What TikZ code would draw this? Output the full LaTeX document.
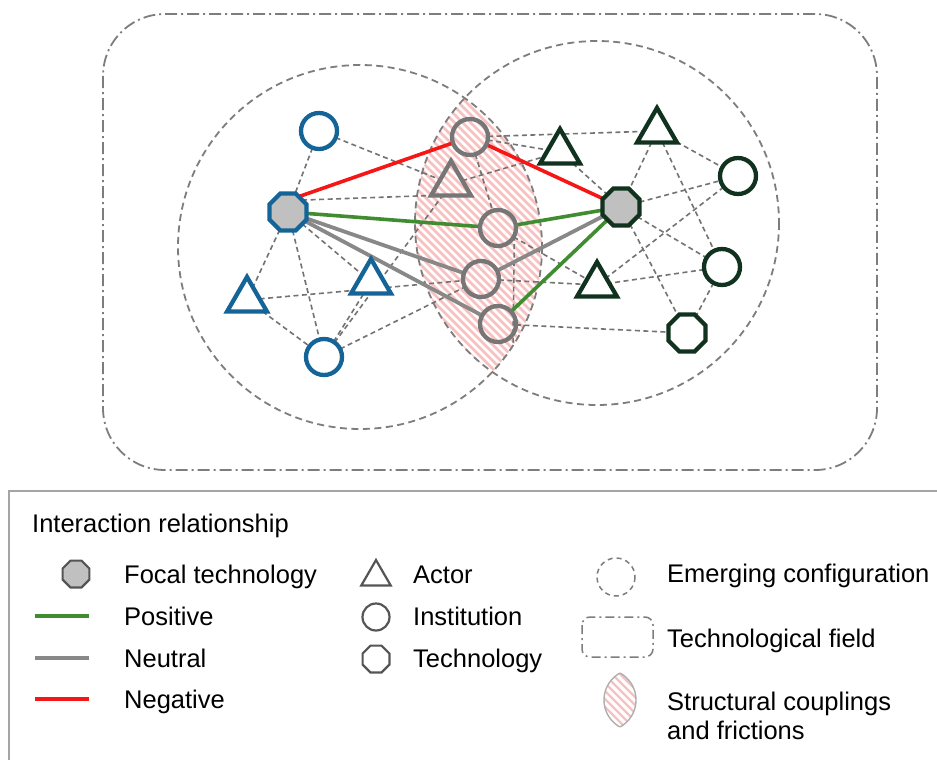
\documentclass[tikz,border=0pt]{standalone}
\usepackage{fontspec}
\setmainfont{Liberation Sans}
\usetikzlibrary{shapes.geometric,backgrounds}

\definecolor{cblue}{RGB}{20,100,152}
\definecolor{cdark}{RGB}{16,50,30}
\definecolor{cgrey}{RGB}{118,118,118}
\definecolor{cfocal}{RGB}{192,192,192}
\definecolor{cpos}{RGB}{64,140,48}
\definecolor{cneu}{RGB}{136,136,136}
\definecolor{cneg}{RGB}{245,22,22}
\definecolor{clink}{RGB}{115,115,115}
\definecolor{chatch}{RGB}{248,192,192}
\definecolor{cframe}{RGB}{125,125,125}
\definecolor{cbox}{RGB}{165,165,165}
\definecolor{cicon}{RGB}{85,85,85}
\definecolor{clensedge}{RGB}{175,175,175}

\tikzset{
  shapebase/.style={draw, line width=4.3pt, inner sep=0pt, outer sep=0pt},
  inst/.style={shapebase, circle, minimum size=36pt},
  actor/.style={shapebase, regular polygon, regular polygon sides=3, minimum size=46pt},
  techno/.style={shapebase, regular polygon, regular polygon sides=8, minimum size=40pt},
  bluenode/.style={draw=cblue, fill=white},
  greynode/.style={draw=cgrey},
  darknode/.style={draw=cdark, fill=white},
  link/.style={draw=clink, line width=1.6pt, dash pattern=on 5pt off 3.5pt},
  posline/.style={draw=cpos, line width=3.6pt},
  neuline/.style={draw=cneu, line width=3.8pt},
  negline/.style={draw=cneg, line width=3.6pt},
  config/.style={draw=cframe, line width=1.8pt, dash pattern=on 7pt off 4.5pt},
  field/.style={draw=cframe, line width=1.8pt, dash pattern=on 12pt off 4pt on 2pt off 4pt, rounded corners=62pt},
  hatchline/.style={draw=chatch, line width=2.8pt},
  legtext/.style={anchor=base west, inner sep=0pt, font=\fontsize{25.5}{30}\selectfont},
  legicon/.style={draw=cicon, line width=2.2pt, inner sep=0pt, outer sep=0pt},
}

\begin{document}
\begin{tikzpicture}[x=1pt,y=-1pt]
\useasboundingbox (0,0) rectangle (937,760);

% ---- left configuration
\node[inst,bluenode] (bc1) at (319,131) {};
\node[techno,bluenode,fill=cfocal] (F1) at (288,212) {};
\node[actor,bluenode] (bt1) at (247,300) {};
\node[actor,bluenode] (bt2) at (371,282) {};
\node[inst,bluenode] (bc2) at (324,357) {};

% ---- shared elements inside the overlap
\node[inst,greynode] (gc1) at (470,137) {};
\node[actor,greynode] (gt) at (451,184) {};
\node[inst,greynode] (gc2) at (498,228) {};
\node[inst,greynode] (gc3) at (481,279) {};
\node[inst,greynode] (gc4) at (498,324) {};

% ---- right configuration
\node[actor,darknode] (dt1) at (560,152) {};
\node[actor,darknode] (dt2) at (657,131) {};
\node[techno,darknode,fill=cfocal] (F2) at (621,207) {};
\node[inst,darknode] (dc1) at (738,176) {};
\node[inst,darknode] (dc2) at (722,267) {};
\node[actor,darknode] (dt3) at (597,285) {};
\node[techno,darknode] (dtech) at (687,333) {};

\coordinate (lensfoot) at (513,346);

\begin{scope}[on background layer]
  \fill[white] (0,0) rectangle (937,760);
  \draw[field] (103,14) rectangle (877,470);
  % hatched overlap of the two configurations
  \begin{scope}
    \clip (360,247) circle (182);
    \clip (597,223) circle (182);
    \foreach \c in {20,28,...,470}
      \draw[hatchline] ({\c+60},60) -- ({\c+420},420);
  \end{scope}
  \draw[config] (360,247) circle (182);
  \draw[config] (597,223) circle (182);

  % weak ties
  \draw[link] (bc1) -- (F1);
  \draw[link] (bc1) -- (gt);
  \draw[link] (F1.40) -- (gt.corner 2);
  \draw[link] (F1) -- (bt1);
  \draw[link] (F1) -- (bc2);
  \draw[link] (F1) -- (bt2);
  \draw[link] (bt1) -- (bc2);
  \draw[link] (bt1) -- (gc3);
  \draw[link] (bc2) -- (bt2);
  \draw[link] (bc2) -- (gt);
  \draw[link] (bc2) -- (gc3);
  \draw[link] (gc1) -- (gc2);
  \draw[link] (gc1) -- (dt1);
  \draw[link] (gc1) -- (dt2);
  \draw[link] (gt) -- (dt1);
  \draw[link] (gc2) -- (dt3);
  \draw[link] (gc3) -- (dt3);
  \draw[link] (gc4) -- (dtech);
  \draw[link] (gc2.-25) -- (lensfoot);
  \draw[link] (dt1) -- (F2);
  \draw[link] (dt2) -- (F2);
  \draw[link] (dt2) -- (dc1);
  \draw[link] (dt2) -- (dc2);
  \draw[link] (F2) -- (dc1);
  \draw[link] (F2) -- (dc2);
  \draw[link] (F2) -- (dtech);
  \draw[link] (dc1) -- (dt3);
  \draw[link] (dc2) -- (dt3);
  \draw[link] (dc2) -- (dtech);

  % interaction relationships
  \draw[negline] (F1.55) -- (gc1);
  \draw[negline] (gc1) -- (F2);
  \draw[posline] (F1) -- (gc2);
  \draw[posline] (gc2) -- (F2);
  \draw[posline] (gc4) -- (F2);
  \draw[neuline] (F1) -- (gc3);
  \draw[neuline] (F1) -- (gc4);
  \draw[neuline] (gc3) -- (F2);
\end{scope}

% ---- legend
\draw[draw=cbox, line width=2pt] (940,491) -- (9,491) -- (9,765);
\node[legtext] (ltitle) at (32,532) {Interaction relationship};

\node[legicon, regular polygon, regular polygon sides=8, minimum size=29pt, fill=cfocal] (lfocal) at (76,574) {};
\node[legtext] (tfocal) at (124,583) {Focal technology};
\coordinate (lposA) at (35,616);  \coordinate (lposB) at (89,616);
\coordinate (lneuA) at (35,658);  \coordinate (lneuB) at (89,658);
\coordinate (lnegA) at (35,699);  \coordinate (lnegB) at (89,699);
\draw[posline, line width=3.2pt] (lposA) -- (lposB);
\draw[neuline, line width=3.2pt] (lneuA) -- (lneuB);
\draw[negline, line width=3.2pt] (lnegA) -- (lnegB);
\node[legtext] (tpos) at (124,625) {Positive};
\node[legtext] (tneu) at (124,667) {Neutral};
\node[legtext] (tneg) at (124,708) {Negative};

\node[legicon, regular polygon, regular polygon sides=3, minimum size=34pt] (lactor) at (376,577) {};
\node[legtext] (tactor) at (413,583) {Actor};
\node[legicon, circle, minimum size=27pt] (linst) at (376,617) {};
\node[legtext] (tinst) at (413,625) {Institution};
\node[legicon, regular polygon, regular polygon sides=8, minimum size=29pt] (ltech) at (376,659) {};
\node[legtext] (ttech) at (413,667) {Technology};

\draw[config, line width=1.5pt, dash pattern=on 5pt off 4pt] (616,577) circle (19);
\node[legtext] (tconf) at (667,582) {Emerging configuration};
\draw[field, line width=1.5pt, rounded corners=8pt, dash pattern=on 9pt off 4pt on 2pt off 4pt] (582,617) rectangle (653,657);
\node[legtext] (tfield) at (667,647) {Technological field};

\begin{scope}
  \clip (605.2,700) circle (30.8);
  \clip (634.8,700) circle (30.8);
  \foreach \c in {-134,-126,...,-26}
    \draw[hatchline, line width=2.4pt] ({\c+660},660) -- ({\c+740},740);
\end{scope}
\begin{scope}
  \clip (605.2,700) circle (30.8);
  \draw[clensedge, line width=1.4pt] (634.8,700) circle (30.8);
\end{scope}
\begin{scope}
  \clip (634.8,700) circle (30.8);
  \draw[clensedge, line width=1.4pt] (605.2,700) circle (30.8);
\end{scope}
\node[legtext] (tlens1) at (667,710) {Structural couplings};
\node[legtext] (tlens2) at (667,739) {and frictions};
\end{tikzpicture}
\end{document}
